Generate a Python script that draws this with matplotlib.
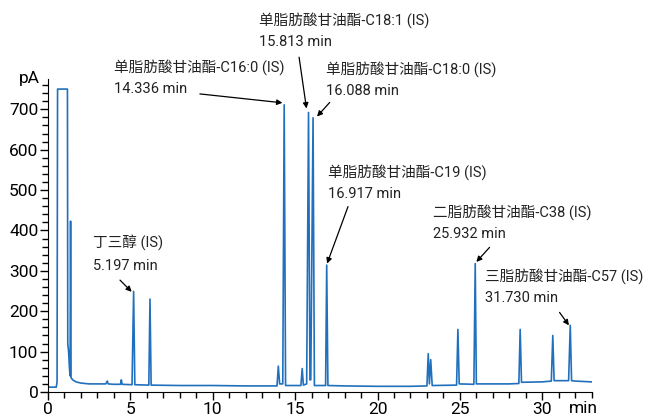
import numpy as np
import matplotlib
matplotlib.use("Agg")
import matplotlib.pyplot as plt
from matplotlib.ticker import MultipleLocator

plt.rcParams['font.family'] = ['Roboto', 'Noto Sans CJK SC', 'DejaVu Sans']

# chromatogram trace (min, pA)
times = [0.0, 0.50, 0.55, 0.58, 1.18, 1.20, 1.25, 1.30, 1.34, 1.37, 1.40, 1.5, 1.7, 2.0,
         2.5, 3.0, 3.5, 3.6, 3.65, 4.0, 4.4, 4.45, 4.5, 5.1, 5.197, 5.27, 6.12, 6.19, 6.26,
         8.0, 10.0, 12.0, 13.9, 13.98, 14.06, 14.25, 14.336, 14.42, 15.35, 15.43, 15.5,
         15.7, 15.813, 15.9, 15.95, 16.088, 16.17, 16.85, 16.917, 16.99, 18.0, 20.0, 22.0,
         23.0, 23.08, 23.15, 23.23, 23.32, 24.8, 24.88, 24.96, 25.85, 25.932, 26.0, 28.0,
         28.58, 28.66, 28.74, 30.0, 30.55, 30.64, 30.72, 31.6, 31.70, 31.78, 32.0, 33.0]
signal = [12, 12, 25, 750, 750, 120, 100, 60, 40, 423, 35, 30, 25, 22,
          20, 20, 20, 27, 20, 19, 19, 30, 19, 18, 249, 18, 17, 230, 17,
          16, 16, 15, 15, 64, 20, 20, 711, 16, 16, 58, 17,
          20, 692, 30, 30, 679, 16, 16, 314, 16, 15, 14, 14,
          15, 95, 20, 80, 16, 17, 155, 20, 19, 318, 20, 20,
          21, 155, 24, 25, 27, 140, 28, 28, 165, 28, 27, 25]

# peak labels: text, text anchor (min, pA), arrow tail, arrow head
labels = ['丁三醇 (IS)\n5.197 min',
          '单脂肪酸甘油酯-C16:0 (IS)\n14.336 min',
          '单脂肪酸甘油酯-C18:1 (IS)\n15.813 min',
          '单脂肪酸甘油酯-C18:0 (IS)\n16.088 min',
          '单脂肪酸甘油酯-C19 (IS)\n16.917 min',
          '二脂肪酸甘油酯-C38 (IS)\n25.932 min',
          '三脂肪酸甘油酯-C57 (IS)\n31.730 min']
label_xy = [(2.73, 388), (4.01, 824), (12.81, 941), (16.86, 820),
            (17.0, 564), (23.37, 465), (26.5, 306)]
arrow_tail = [(4.37, 277), (9.22, 738), (15.24, 829), (17.10, 717),
              (18.21, 459), (26.80, 358), (31.05, 197)]
arrow_head = [(5.08, 248), (14.23, 716), (15.69, 702), (16.33, 682),
              (16.94, 318), (26.0, 322), (31.62, 165)]

fig = plt.figure(figsize=(6.54, 4.17), dpi=100)
ax = fig.add_axes([0.0734, 0.06, 0.8313, 0.7506])
ax.plot(times, signal, color='#2170bd', lw=1.2)

ax.set_xlim(0, 33)
ax.set_ylim(0, 775)
ax.spines['top'].set_visible(False)
ax.spines['right'].set_visible(False)
ax.xaxis.set_major_locator(MultipleLocator(5))
ax.xaxis.set_minor_locator(MultipleLocator(1))
ax.yaxis.set_major_locator(MultipleLocator(100))
ax.yaxis.set_minor_locator(MultipleLocator(20))
ax.tick_params(which='major', length=6, width=1, labelsize=12.5, pad=1)
ax.tick_params(which='minor', length=4, width=1)

ax.text(-0.015, 1.0, 'pA', transform=ax.transAxes, ha='right', va='center', fontsize=12.5)
ax.text(0.985, -0.052, 'min', transform=ax.transAxes, ha='center', va='center', fontsize=12.5)

for txt, xy, tail, head in zip(labels, label_xy, arrow_tail, arrow_head):
    ax.text(xy[0], xy[1], txt, ha='left', va='top', fontsize=10.5, linespacing=1.65,
            color='#222222')
    ax.annotate('', xy=head, xytext=tail, annotation_clip=False,
                arrowprops=dict(arrowstyle='-|>', color='black', lw=0.9,
                                mutation_scale=8, shrinkA=0, shrinkB=0))

fig.savefig('out.png', dpi=100)
